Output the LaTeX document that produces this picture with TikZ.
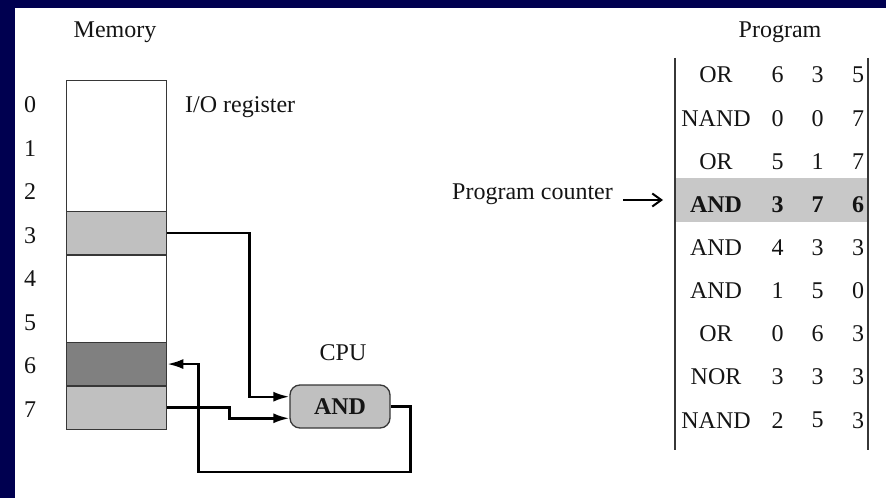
\documentclass[tikz,border=0pt]{standalone}
\usepackage{fontspec}
\setmainfont{Liberation Serif}
\usetikzlibrary{arrows.meta,calc}
\definecolor{navy}{RGB}{0,0,80}
\definecolor{lightcell}{RGB}{192,192,192}
\definecolor{darkcell}{RGB}{128,128,128}
\definecolor{pcband}{RGB}{200,200,200}
\definecolor{rule}{RGB}{55,55,55}
\definecolor{ink}{RGB}{20,20,20}

\begin{document}
\begin{tikzpicture}[x=1bp,y=-1bp,
  font=\fontsize{24bp}{28bp}\selectfont,
  txt/.style={inner sep=0pt, text=ink},
  cell/.style={draw=rule, line width=1.3bp, minimum width=100bp,
               minimum height=43.6bp, inner sep=0pt, anchor=north west},
  conn/.style={line width=2.4bp, black},
  tip/.style={-{Latex[length=16bp,width=10bp]}},
  tablerule/.style={line width=1.3bp, rule}]

% slide frame
\useasboundingbox (0,0) rectangle (886,498);
\fill[navy] (-5,-5) rectangle (891,503);
\fill[white] (15,8) rectangle (891,503);

% ---------- memory ----------
\node[txt, anchor=base] (memtitle) at (115,38) {Memory};
\node[cell, fill=lightcell] (m3) at (66,210.8) {};
\node[cell, fill=darkcell]  (m6) at (66,341.6) {};
\node[cell, fill=lightcell] (m7) at (66,385.2) {};
\node[cell, minimum height=348.8bp] (mem) at (66,80) {};
\foreach \i in {0,...,7}
  \node[txt] (addr\i) at (30,{104.5+43.6*\i}) {\i};
\node[txt, anchor=base west] (io) at (185,112.5) {I/O register};

% ---------- CPU ----------
\node[txt] (cpu) at (343,352.5) {CPU};
\node[draw=rule, line width=1.3bp, fill=lightcell, rounded corners=10bp,
      minimum width=100bp, minimum height=43bp, inner sep=0pt,
      font=\fontsize{24bp}{28bp}\selectfont\bfseries, text=ink] (and) at (340,406.5) {AND};
\coordinate (in1) at ($(and.west)+(0,-9.8)$);
\coordinate (in2) at ($(and.west)+(0,11.8)$);

% data paths
\draw[conn,tip] (m3.east) -- ++(82,0) |- (in1);
\draw[conn,tip] (m7.east) -- ++(62,0) |- (in2);
\draw[conn,tip] (and.east) -| ++(20,65.5) -| ([xshift=31bp]m6.east) -- (m6.east);

% ---------- program ----------
\node[txt, anchor=base] (progtitle) at (780,38) {Program};
\node[fill=pcband, minimum width=193bp, minimum height=44bp, inner sep=0pt] (pcrow) at (771.5,200) {};
\draw[tablerule] (675,58) -- (675,450);
\draw[tablerule] (868,58) -- (868,450);

\foreach \op/\a/\b/\c/\w [count=\k] in {
    OR/6/3/5/\mdseries, NAND/0/0/7/\mdseries, OR/5/1/7/\mdseries,
    AND/3/7/6/\bfseries, AND/4/3/3/\mdseries, AND/1/5/0/\mdseries,
    OR/0/6/3/\mdseries, NOR/3/3/3/\mdseries, NAND/2/5/3/\mdseries} {
  \pgfmathsetmacro\yy{75+43.15*(\k-1)}
  \node[txt, font=\fontsize{24bp}{28bp}\selectfont\w] (op\k) at (716,\yy) {\op};
  \node[txt, font=\fontsize{24bp}{28bp}\selectfont\w] (sa\k) at (777.5,\yy) {\a};
  \node[txt, font=\fontsize{24bp}{28bp}\selectfont\w] (sb\k) at (817.5,\yy) {\b};
  \node[txt, font=\fontsize{24bp}{28bp}\selectfont\w] (sc\k) at (858,\yy) {\c};
}

\node[txt, anchor=base west] (pc) at (452,200) {Program counter};
\coordinate (pcs) at (623,200);
\coordinate (pce) at (663,200);
\draw[line width=2bp, -{Straight Barb[length=9bp,width=13bp]}] (pcs) -- (pce);
\end{tikzpicture}
\end{document}
